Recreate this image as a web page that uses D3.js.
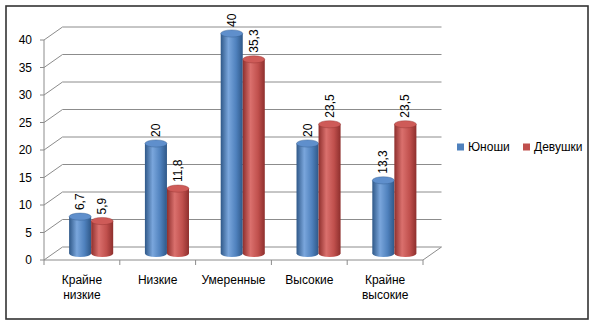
<html>
<head>
<meta charset="utf-8">
<style>
  body { margin: 0; background: #fff; }
  svg text { font-family: "Liberation Sans", Arial, sans-serif; font-size: 12px; fill: #000; }
</style>
</head>
<body>
<svg id="chart" width="598" height="327"></svg>
<script src="https://d3js.org/d3.v7.min.js"></script>
<script>
var categories = [["Крайне", "низкие"], ["Низкие"], ["Умеренные"], ["Высокие"], ["Крайне", "высокие"]];
var seriesNames = ["Юноши", "Девушки"];
var boys = [6.7, 20, 40, 20, 13.3];
var girls = [5.9, 11.8, 35.3, 23.5, 23.5];
var yTicks = [0, 5, 10, 15, 20, 25, 30, 35, 40];

var colors = ["#4F81BD", "#C0504D"];
var dark = ["#2F5888", "#8E2F2D"];
var light = ["#7AA6DC", "#DA706D"];
var topCol = ["#5F8FCC", "#CE5B58"];

var svg = d3.select("#chart");
var depthX = 18.5, depthY = -13;

var y = d3.scaleLinear().domain([0, 40]).range([260, 40]);
var x = d3.scaleBand().domain(d3.range(categories.length)).range([44, 423]);
var xs = d3.scaleBand().domain([0, 1]).range([0, x.bandwidth()]).paddingOuter(0.72).paddingInner(0);

// chart border
svg.append("rect").attr("x", 6).attr("y", 6).attr("width", 582).attr("height", 313)
  .attr("fill", "#fff").attr("stroke", "#333").attr("stroke-width", 1.6);

var grid = "#8c8c8c";
// back wall gridlines + side wall lines
yTicks.forEach(function(t) {
  svg.append("line").attr("x1", 44 + depthX).attr("x2", 423 + depthX)
    .attr("y1", y(t) + depthY).attr("y2", y(t) + depthY).attr("stroke", grid);
  svg.append("line").attr("x1", 44).attr("x2", 44 + depthX)
    .attr("y1", y(t)).attr("y2", y(t) + depthY).attr("stroke", grid);
  svg.append("line").attr("x1", 40).attr("x2", 44)
    .attr("y1", y(t)).attr("y2", y(t)).attr("stroke", grid);
  svg.append("text").attr("x", 32).attr("y", y(t)).attr("text-anchor", "end")
    .attr("dominant-baseline", "central").text(t);
});
// y axis
svg.append("line").attr("x1", 44).attr("x2", 44).attr("y1", y(40)).attr("y2", y(0)).attr("stroke", grid);
// floor front edge and right side
svg.append("line").attr("x1", 44).attr("x2", 423).attr("y1", y(0)).attr("y2", y(0)).attr("stroke", grid);
svg.append("line").attr("x1", 423).attr("x2", 423 + depthX).attr("y1", y(0)).attr("y2", y(0) + depthY).attr("stroke", grid);
// x ticks
d3.range(categories.length + 1).forEach(function(i) {
  var px = 44 + i * x.bandwidth();
  svg.append("line").attr("x1", px).attr("x2", px).attr("y1", y(0)).attr("y2", y(0) + 5).attr("stroke", grid);
});

// gradients
var defs = svg.append("defs");
[0, 1].forEach(function(s) {
  var g = defs.append("linearGradient").attr("id", "cyl" + s).attr("x1", "0").attr("x2", "1").attr("y1", "0").attr("y2", "0");
  g.append("stop").attr("offset", "0").attr("stop-color", dark[s]);
  g.append("stop").attr("offset", "0.35").attr("stop-color", light[s]);
  g.append("stop").attr("offset", "0.7").attr("stop-color", colors[s]);
  g.append("stop").attr("offset", "1").attr("stop-color", dark[s]);
});

var rx = xs.bandwidth() / 2, ry = 3.6;
var midX = depthX / 2, midY = depthY / 2;

var rows = [];
categories.forEach(function(c, i) {
  rows.push({ cat: i, s: 0, v: boys[i] });
  rows.push({ cat: i, s: 1, v: girls[i] });
});

var bars = svg.selectAll(".bar").data(rows).enter().append("g").attr("class", "bar");
function cx(d) { return x(d.cat) + xs(d.s) + rx + midX; }
bars.append("rect")
  .attr("x", function(d) { return cx(d) - rx; })
  .attr("y", function(d) { return y(d.v) + midY; })
  .attr("width", rx * 2)
  .attr("height", function(d) { return y(0) - y(d.v); })
  .attr("fill", function(d) { return "url(#cyl" + d.s + ")"; });
bars.append("ellipse")
  .attr("cx", cx).attr("cy", y(0) + midY).attr("rx", rx).attr("ry", ry)
  .attr("fill", function(d) { return "url(#cyl" + d.s + ")"; });
bars.append("ellipse")
  .attr("cx", cx).attr("cy", function(d) { return y(d.v) + midY; }).attr("rx", rx).attr("ry", ry)
  .attr("fill", function(d) { return topCol[d.s]; })
  .attr("stroke", function(d) { return dark[d.s]; }).attr("stroke-width", 0.4);
bars.append("text")
  .attr("transform", function(d) { return "translate(" + cx(d) + "," + (y(d.v) + midY - ry - 3) + ") rotate(-90)"; })
  .attr("dominant-baseline", "central")
  .text(function(d) { return String(d.v).replace(".", ","); });

// category labels
categories.forEach(function(lines, i) {
  var t = svg.append("text").attr("x", x(i) + x.bandwidth() / 2).attr("y", 284).attr("text-anchor", "middle");
  lines.forEach(function(l, k) {
    t.append("tspan").attr("x", x(i) + x.bandwidth() / 2).attr("dy", k === 0 ? 0 : 15).text(l);
  });
});

// legend
var legX = [457, 523];
seriesNames.forEach(function(n, s) {
  svg.append("rect").attr("x", legX[s]).attr("y", 143.5).attr("width", 7).attr("height", 7).attr("fill", colors[s]);
  svg.append("text").attr("x", legX[s] + 11).attr("y", 147).attr("dominant-baseline", "central").text(n);
});
</script>
</body>
</html>
